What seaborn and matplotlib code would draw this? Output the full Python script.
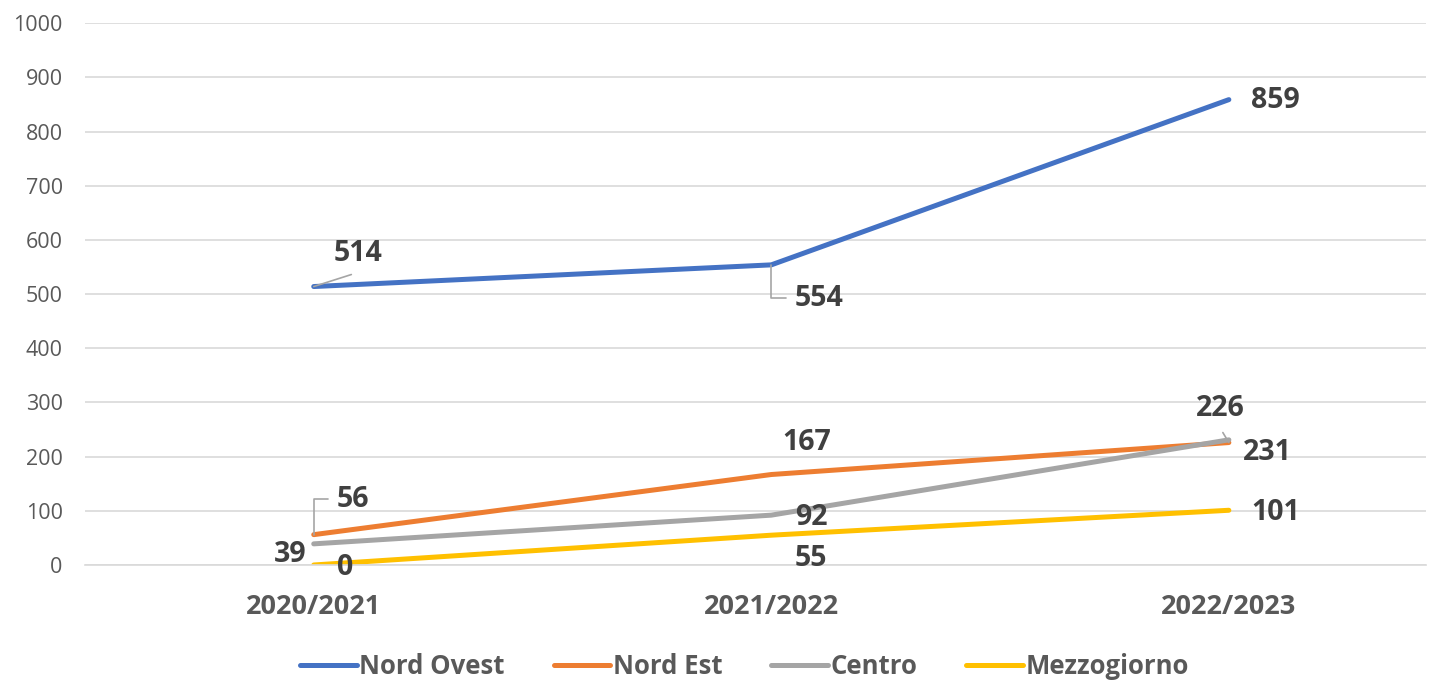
import matplotlib
matplotlib.use('Agg')
import matplotlib.pyplot as plt
import seaborn as sns
import pandas as pd

# Dati
anni = ['2020/2021', '2021/2022', '2022/2023']
nord_ovest = [514, 554, 859]
nord_est = [56, 167, 226]
centro = [39, 92, 231]
mezzogiorno = [0, 55, 101]

serie = {'Nord Ovest': nord_ovest, 'Nord Est': nord_est,
         'Centro': centro, 'Mezzogiorno': mezzogiorno}
colori = ['#4472C4', '#ED7D31', '#A5A5A5', '#FFC000']

righe = []
for nome, valori in serie.items():
    for anno, v in zip(anni, valori):
        righe.append({'Anno': anno, 'Valore': v, 'Area': nome})
df = pd.DataFrame(righe)

sns.set_style('white')
plt.rcParams['font.family'] = ['Open Sans', 'DejaVu Sans']

fig = plt.figure(figsize=(14.4, 6.84), dpi=100)
ax = fig.add_axes([0.059, 0.174, 0.931, 0.792])

sns.lineplot(data=df, x='Anno', y='Valore', hue='Area', palette=colori,
             linewidth=3.6, ax=ax, sort=False, solid_capstyle='round')

ax.set_ylim(0, 1000)
ax.set_xlim(-0.5, 2.43)
ax.set_yticks(range(0, 1001, 100))
ax.yaxis.grid(True, color='#D9D9D9', linewidth=1.2)
ax.set_axisbelow(True)
for s in ['top', 'right', 'left']:
    ax.spines[s].set_visible(False)
ax.spines['bottom'].set_color('#D9D9D9')
ax.spines['bottom'].set_linewidth(1.2)
ax.set_xlabel('')
ax.set_ylabel('')
ax.tick_params(axis='y', labelsize=15.5, colors='#595959', length=0, pad=16)
ax.tick_params(axis='x', labelsize=19.5, colors='#595959', length=0, pad=21)
for t in ax.get_xticklabels():
    t.set_fontweight('bold')

# Etichette dati (offset in pixel)
etichette = [
    (0, nord_ovest[0], 44, 33, 'retta'),
    (1, nord_ovest[1], 48, -34, 'gomito_giu'),
    (2, nord_ovest[2], 47, -1, None),
    (0, nord_est[0], 39, 35, 'gomito_su'),
    (1, nord_est[1], 35, 32, None),
    (2, nord_est[2], -9, 34, 'retta'),
    (0, centro[0], -24, -11, None),
    (1, centro[1], 40, -2, None),
    (2, centro[2], 39, -13, None),
    (0, mezzogiorno[0], 31, -3, None),
    (1, mezzogiorno[1], 40, -23, None),
    (2, mezzogiorno[2], 47, -2, None),
]
for xi, v, dx, dy, leader in etichette:
    ax.annotate(str(v), (xi, v), xytext=(dx, dy), textcoords='offset pixels',
                ha='center', va='center', fontsize=20.5, fontweight='bold',
                color='#404040')
    if leader == 'retta':
        if dx > 0:
            fine = (dx * 0.9 - 2, dy - 21)
        else:
            fine = (-6, dy - 24)
        ax.annotate('', (xi, v), xytext=fine, textcoords='offset pixels',
                    arrowprops=dict(arrowstyle='-', color='#A5A5A5', lw=1.2,
                                    shrinkA=0, shrinkB=0))
    elif leader == 'gomito_giu':
        ax.annotate('', (xi, v), xytext=(15, -33), textcoords='offset pixels',
                    arrowprops=dict(arrowstyle='-', color='#A5A5A5', lw=1.2,
                                    shrinkA=0, shrinkB=0,
                                    connectionstyle='angle,angleA=0,angleB=90,rad=0'))
    elif leader == 'gomito_su':
        ax.annotate('', (xi, v), xytext=(14, 36), textcoords='offset pixels',
                    arrowprops=dict(arrowstyle='-', color='#A5A5A5', lw=1.2,
                                    shrinkA=0, shrinkB=0,
                                    connectionstyle='angle,angleA=0,angleB=90,rad=0'))

handles, labels = ax.get_legend_handles_labels()
ax.legend_.remove()
fig.legend(handles, labels, loc='center', bbox_to_anchor=(0.517, 0.025),
           ncol=4, frameon=False, handlelength=2.2, columnspacing=1.9,
           handletextpad=0.1, prop={'size': 18.5, 'weight': 'bold'},
           labelcolor='#595959', borderpad=0.1)

fig.savefig('out.png', dpi=100)
